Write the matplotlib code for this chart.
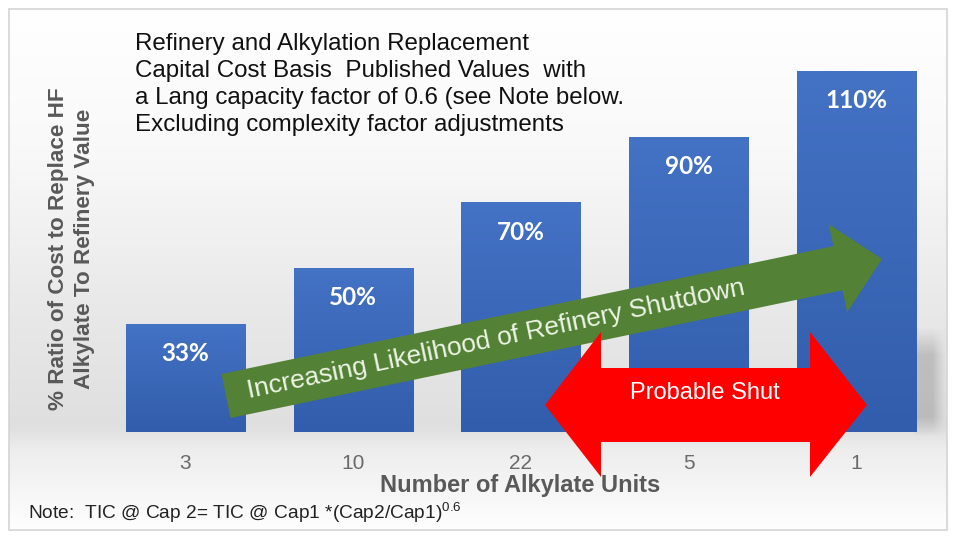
import numpy as np
import matplotlib
matplotlib.use('Agg')
import matplotlib.pyplot as plt
from matplotlib.patches import Polygon, Rectangle

# chart data
units = ["3", "10", "22", "5", "1"]
ratio_pct = [33, 50, 70, 90, 110]
bar_labels = ["33%", "50%", "70%", "90%", "110%"]

title_lines = ["Refinery and Alkylation Replacement",
               "Capital Cost Basis  Published Values  with",
               "a Lang capacity factor of 0.6 (see Note below.",
               "Excluding complexity factor adjustments"]
ylabel = "% Ratio of Cost to Replace HF\nAlkylate To Refinery Value"
xlabel = "Number of Alkylate Units"
trend_text = "Increasing Likelihood of Refinery Shutdown"
shut_text = "Probable Shut"
note_text = "Note:  TIC @ Cap 2= TIC @ Cap1 *(Cap2/Cap1)$^{0.6}$"

plt.rcParams['font.family'] = ['Liberation Sans', 'DejaVu Sans']
plt.rcParams['mathtext.fontset'] = 'custom'
plt.rcParams['mathtext.rm'] = 'Liberation Sans'
plt.rcParams['mathtext.it'] = 'Liberation Sans'
W, H = 956, 539
GREY = "#595959"

fig = plt.figure(figsize=(W / 100, H / 100), dpi=100)
fig.patch.set_facecolor("white")

# background panel (pixel coordinates)
bg = fig.add_axes([0, 0, 1, 1], zorder=0)
bg.set_xlim(0, W)
bg.set_ylim(H, 0)
bg.axis("off")
ys = np.arange(H)
stops_y = [0, 150, 300, 432, 455, 530, H]
stops_v = [1.0, 0.975, 0.915, 0.875, 0.93, 0.99, 1.0]
col = np.interp(ys, stops_y, stops_v)
grad = np.repeat(col[:, None], 2, axis=1)
grad = np.dstack([grad, grad, grad])
bg.imshow(grad, extent=[9, 947, 530, 9], aspect="auto", interpolation="bilinear", zorder=0)
bg.add_patch(Rectangle((9, 9), 938, 521, fill=False, ec="#d4d4d4", lw=1.2, zorder=1))

# soft shadow to the right of the last bar
sh_h, sh_w = 110, 34
yy = np.linspace(0, 1, sh_h)[:, None]
xx = np.linspace(0, 1, sh_w)[None, :]
ay = np.clip(yy / 0.25, 0, 1) * np.clip((1 - yy) / 0.18, 0, 1)
ax_ = np.clip((1 - xx) / 0.45, 0, 1) ** 1.2
alpha = 0.3 * ay * ax_
shadow = np.zeros((sh_h, sh_w, 4))
shadow[..., :3] = 0.4
shadow[..., 3] = alpha
bg.imshow(shadow, extent=[914, 948, 437, 327], aspect="auto", interpolation="bilinear", zorder=2)

# main bar axes
ax = fig.add_axes([101.6 / W, (H - 432) / H, 838.75 / W, 394 / H], zorder=1)
ax.patch.set_alpha(0)
x = np.arange(len(units))
bars = ax.bar(x, ratio_pct, width=0.71, color="#3f69bb", zorder=2)
g = np.linspace(0, 1, 64)[:, None]
top_c = np.array([68, 114, 196]) / 255
bot_c = np.array([50, 93, 172]) / 255
bar_grad = (top_c[None, None, :] * (1 - g[..., None]) + bot_c[None, None, :] * g[..., None])
bar_grad = np.repeat(bar_grad, 2, axis=1)
for b in bars:
    x0, w, h = b.get_x(), b.get_width(), b.get_height()
    im = ax.imshow(bar_grad, extent=[x0, x0 + w, 0, h], aspect="auto",
                   interpolation="bilinear", zorder=3)
    im.set_clip_path(b)
for xi, v, lab in zip(x, ratio_pct, bar_labels):
    ax.annotate(lab, (xi, v), xytext=(0, -30), textcoords="offset pixels",
                ha="center", va="center", color="white", fontsize=17.5,
                fontweight="bold", family=["Lato", "DejaVu Sans"], zorder=4)
ax.set_xlim(-0.5, 4.5)
ax.set_ylim(0, 120)
ax.set_xticks(x, units)
ax.set_yticks([])
ax.tick_params(axis="x", length=0, pad=16, labelsize=15, labelcolor="#6a6a6a")
for s in ax.spines.values():
    s.set_visible(False)
ax.set_xlabel(xlabel, fontsize=17, fontweight="bold", color=GREY)
ax.xaxis.set_label_coords(0.499, -0.137)
ax.xaxis.label.set_va("center")
ax.set_ylabel(ylabel, fontsize=16.2, fontweight="bold", color=GREY,
              multialignment="center", linespacing=1.3)
ax.yaxis.set_label_coords(-0.0355, 0.465)
ax.yaxis.label.set_va("center")

# overlay for the arrows (pixel coordinates)
ov = fig.add_axes([0, 0, 1, 1], zorder=3)
ov.set_xlim(0, W)
ov.set_ylim(H, 0)
ov.axis("off")
ov.patch.set_alpha(0)

tail = np.array([226.0, 396.0])
tip = np.array([882.0, 259.0])
d = tip - tail
L = np.hypot(*d)
u = d / L
n = np.array([-u[1], u[0]])
base = tip - 45 * u
pts = [tail - 22.5 * n, base - 22.5 * n, base - 45 * n, tip,
       base + 45 * n, base + 22.5 * n, tail + 22.5 * n]
ov.add_patch(Polygon(pts, closed=True, fc="#538135", ec="none", zorder=2))
ang = np.degrees(np.arctan2(-d[1], d[0]))
mid = tail + u * (496 - tail[0]) / u[0]
ov.text(mid[0], mid[1], trend_text, rotation=ang, rotation_mode="anchor",
        ha="center", va="center", fontsize=19, color="#eef4e6", zorder=3)

red = [(545, 405), (601, 332), (601, 368), (810, 368), (810, 332), (867, 405),
       (810, 477), (810, 442), (601, 442), (601, 477)]
ov.add_patch(Polygon(red, closed=True, fc="#ff0000", ec="none", zorder=4))
ov.text(705, 393, shut_text, ha="center", va="center", fontsize=17, color="white", zorder=5)

for i, line in enumerate(title_lines):
    ov.text(135, 50 + 27 * i, line, ha="left", va="baseline", fontsize=17.4,
            color="#111111", zorder=5)

ov.text(28, 519, note_text, ha="left", va="baseline", fontsize=13.8,
        color="#222222", zorder=5)

fig.savefig("out.png", dpi=100)
